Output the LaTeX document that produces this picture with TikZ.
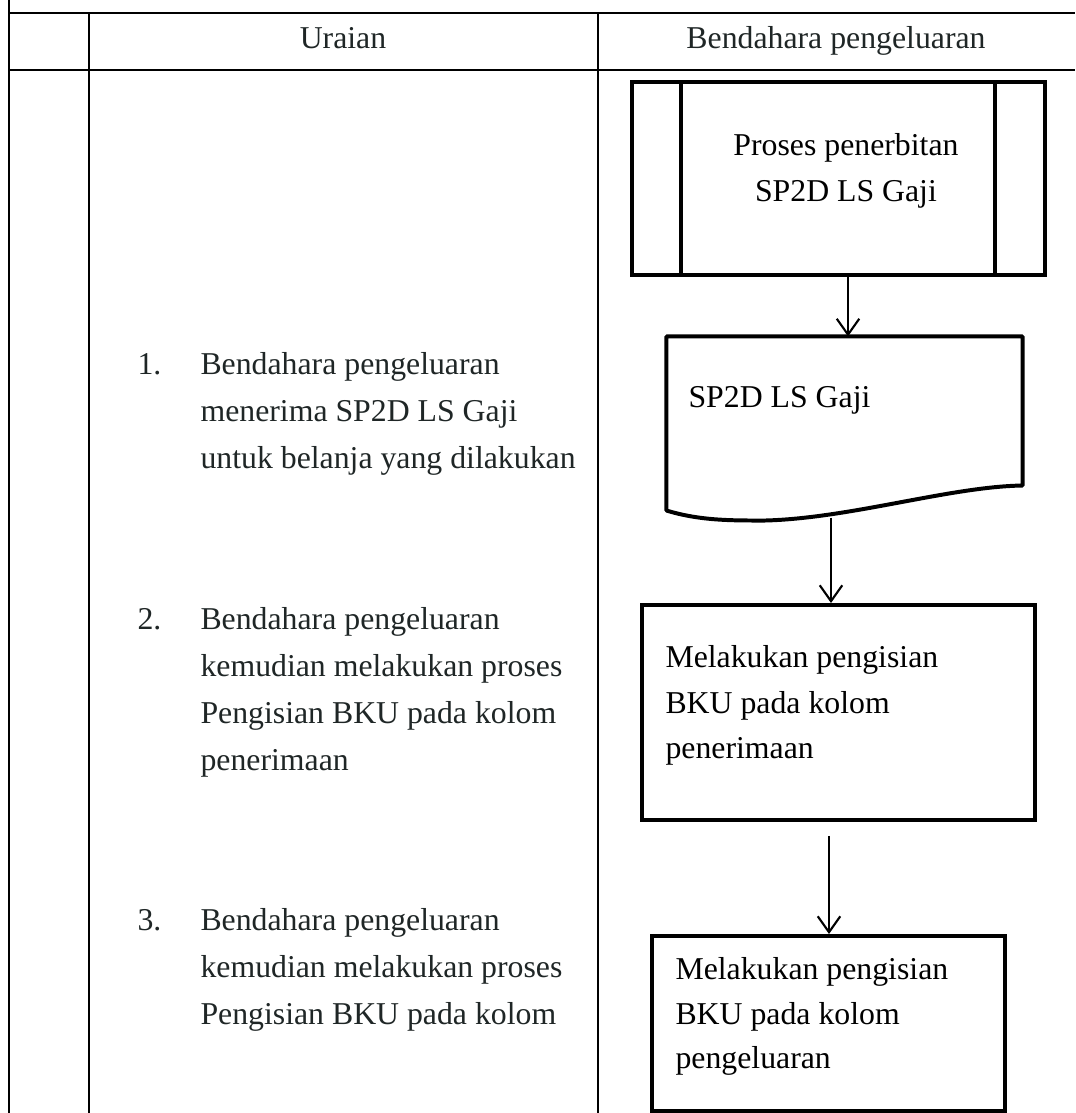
\documentclass[tikz,border=0pt]{standalone}
\usepackage{fontspec}
\setmainfont{Liberation Serif}
\usetikzlibrary{arrows.meta,positioning,calc}
\definecolor{tinta}{HTML}{1F2626}
\def\px{0.3776pt}

\tikzset{
  garis/.style={line width=1.1pt},
  kotak/.style={draw, line width=1.5pt, inner sep=0pt},
  bentuk/.style={line width=1.5pt, line join=round},
  panah/.style={line width=0.8pt, -{Straight Barb[length=6pt,width=8.5pt]}},
  judul/.style={font=\fontsize{12}{14}\selectfont, text=tinta, anchor=base, inner sep=0pt},
  uraian/.style={font=\fontsize{12}{17.75}\selectfont, text=tinta, align=left, anchor=north west, inner sep=0pt},
  nomor/.style={uraian, text height=8.2pt},
  isian/.style={font=\fontsize{12}{17.2}\selectfont, align=left, anchor=north west, inner sep=0pt},
}

\begin{document}
\begin{tikzpicture}[x=\px, y=-\px]
  \useasboundingbox (0,0) rectangle (1075,1113);
  % tabel
  \draw[garis] (9,0) -- (9,1113);
  \draw[garis] (9,13) -- (1075,13);
  \draw[garis] (9,70) -- (1075,70);
  \draw[garis] (89,13) -- (89,1113);
  \draw[garis] (598,13) -- (598,1113);
  \node[judul] (kolUraian) at (343,49) {Uraian};
  \node[judul] (kolBendahara) at (836,49) {Bendahara pengeluaran};

  % uraian langkah
  \node[nomor] (no1) at (137,352) {1.};
  \node[uraian] (langkah1) at (200,352) {Bendahara pengeluaran\\menerima SP2D LS Gaji\\untuk belanja yang dilakukan};
  \node[nomor] (no2) at (137,607) {2.};
  \node[uraian] (langkah2) at (200,607) {Bendahara pengeluaran\\kemudian melakukan proses\\Pengisian BKU pada kolom\\penerimaan};
  \node[nomor] (no3) at (137,908) {3.};
  \node[uraian] (langkah3) at (200,908) {Bendahara pengeluaran\\kemudian melakukan proses\\Pengisian BKU pada kolom};

  % proses terdefinisi
  \node[kotak, minimum width=413*\px, minimum height=193*\px] (proses) at (838.5,178.5) {};
  \draw[bentuk] (proses.north west) ++(51,0) -- ++(0,193);
  \draw[bentuk] (proses.north east) ++(-52,0) -- ++(0,193);
  \node[font=\fontsize{12}{17.5}\selectfont, align=center, anchor=north, inner sep=0pt] (prosesTeks) at (846,133) {Proses penerbitan\\SP2D LS Gaji};

  % dokumen
  \node[inner sep=0pt, minimum width=355*\px, minimum height=183*\px] (sp2d) at (844.5,428.5) {};
  \draw[bentuk] ($(sp2d.south west)+(0,-10)$) -- (sp2d.north west) -- (sp2d.north east)
    -- ($(sp2d.south east)+(0,-35)$)
    .. controls +(-72,1) and +(85,-2) .. ($(sp2d.south west)+(98,0)$)
    .. controls +(-35,0) and +(33,10) .. ($(sp2d.south west)+(0,-10)$) -- cycle;
  \node[isian, anchor=base west] (sp2dTeks) at (688,407) {SP2D LS Gaji};

  % pengisian BKU
  \node[kotak, minimum width=393*\px, minimum height=215*\px] (isi1) at (838.5,712.5) {};
  \node[isian] (isi1Teks) at (665,645) {Melakukan pengisian\\BKU pada kolom\\penerimaan};
  \node[kotak, minimum width=353*\px, minimum height=175*\px] (isi2) at (828.5,1023.5) {};
  \node[isian, font=\fontsize{12}{16.8}\selectfont] (isi2Teks) at (675,957) {Melakukan pengisian\\BKU pada kolom\\pengeluaran};

  % panah
  \coordinate (a1) at ($(proses.south)+(9.5,0)$);
  \coordinate (a2) at ($(sp2d.south)+(-13.5,-3)$);
  \coordinate (a3) at ($(isi1.south)+(-9.5,14)$);
  \draw[panah] (a1) -- (a1 |- sp2d.north);
  \draw[panah] (a2) -- (a2 |- isi1.north);
  \draw[panah] (a3) -- (a3 |- isi2.north);
\end{tikzpicture}
\end{document}
